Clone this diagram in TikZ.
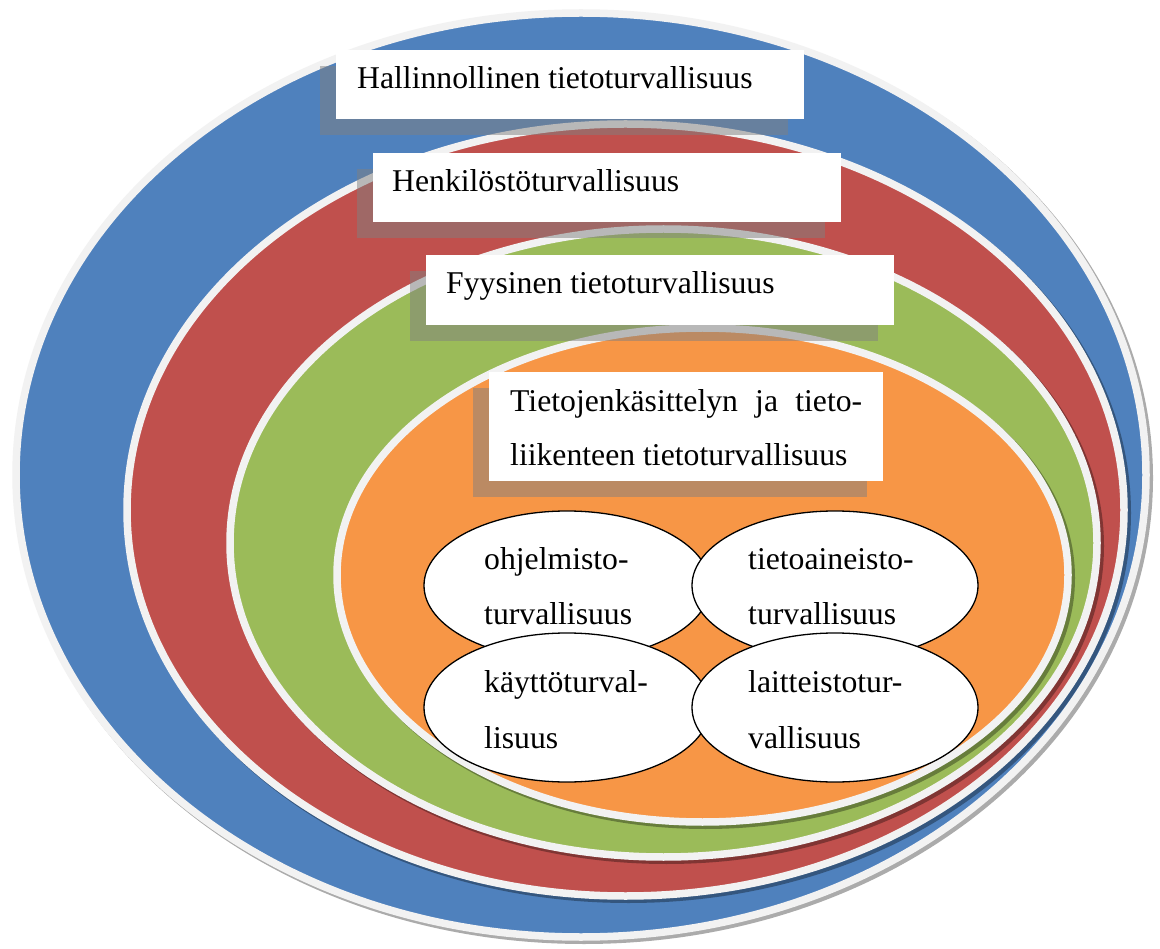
\documentclass[tikz,border=0pt]{standalone}
\usepackage{fontspec}
\setmainfont{Liberation Serif}
\usetikzlibrary{shapes.geometric,shadows}
\definecolor{ringblue}{HTML}{4F81BD}
\definecolor{ringred}{HTML}{C0504D}
\definecolor{ringgreen}{HTML}{9BBB59}
\definecolor{ringorange}{HTML}{F79646}
\definecolor{ringedge}{HTML}{F2F2F2}
\tikzset{
  ring/.style={draw=ringedge, line width=7.5pt},
  ringshadow/.style={fill=black, fill opacity=0.33},
  labelbox/.style={fill=white, draw=none, inner sep=0pt, anchor=north west,
    drop shadow={shadow xshift=-16pt, shadow yshift=-16pt, fill=gray, opacity=0.5}},
  lbl/.style={inner sep=0pt, anchor=base west, font=\fontsize{31.7}{54}\selectfont},
  smallell/.style={ellipse, draw=black, line width=1.3pt, fill=white, inner sep=0pt,
    minimum width=286pt, minimum height=149pt}
}
\begin{document}
\begin{tikzpicture}[x=1pt,y=-1pt]
\useasboundingbox (0,0) rectangle (1160,949);
\fill[white] (0,0) rectangle (1160,949);
% outer ring: blue
\fill[ringshadow] (584,478) ellipse [x radius=569, y radius=466];
\draw[ring, fill=ringblue] (581,475) ellipse [x radius=565, y radius=462];
% red
\fill[ringshadow] (628.5,513) ellipse [x radius=502.5, y radius=390];
\draw[ring, fill=ringred] (625.5,510) ellipse [x radius=498.5, y radius=386];
% green
\fill[ringshadow] (666.5,546) ellipse [x radius=437.5, y radius=318];
\draw[ring, fill=ringgreen] (663.5,543) ellipse [x radius=433.5, y radius=314];
% orange
\fill[ringshadow] (705.5,578) ellipse [x radius=369.5, y radius=251];
\draw[ring, fill=ringorange] (702.5,575) ellipse [x radius=365.5, y radius=247];

% label boxes
\node[labelbox, minimum width=468pt, minimum height=69pt] (b1) at (336,50) {};
\node[labelbox, minimum width=468pt, minimum height=69pt] (b2) at (373,153) {};
\node[labelbox, minimum width=468pt, minimum height=70pt] (b3) at (426,255) {};
\node[labelbox, minimum width=394pt, minimum height=109pt] (b4) at (489,372) {};

\node[lbl] (t1) at (357,89) {Hallinnollinen tietoturvallisuus};
\node[lbl] (t2) at (392,192) {Henkilöstöturvallisuus};
\node[lbl] (t3) at (446,294) {Fyysinen tietoturvallisuus};
\node[lbl] (t4a) at (510,412) {\hbox to 352pt{Tietojenkäsittelyn\hfill ja\hfill tieto-}};
\node[lbl] (t4b) at (510,466) {liikenteen tietoturvallisuus};

% small ellipses
\node[smallell] (e1) at (567,585.5) {};
\node[smallell] (e2) at (835,585.5) {};
\node[smallell] (e3) at (567,707.5) {};
\node[smallell] (e4) at (835,707.5) {};

\node[lbl] (e1a) at (484,569) {ohjelmisto-};
\node[lbl] (e1b) at (484,624) {turvallisuus};
\node[lbl] (e2a) at (748,569) {tietoaineisto-};
\node[lbl] (e2b) at (748,624) {turvallisuus};
\node[lbl] (e3a) at (484,692) {käyttöturval-};
\node[lbl] (e3b) at (484,748) {lisuus};
\node[lbl] (e4a) at (748,692) {laitteistotur-};
\node[lbl] (e4b) at (748,748) {vallisuus};
\end{tikzpicture}
\end{document}
